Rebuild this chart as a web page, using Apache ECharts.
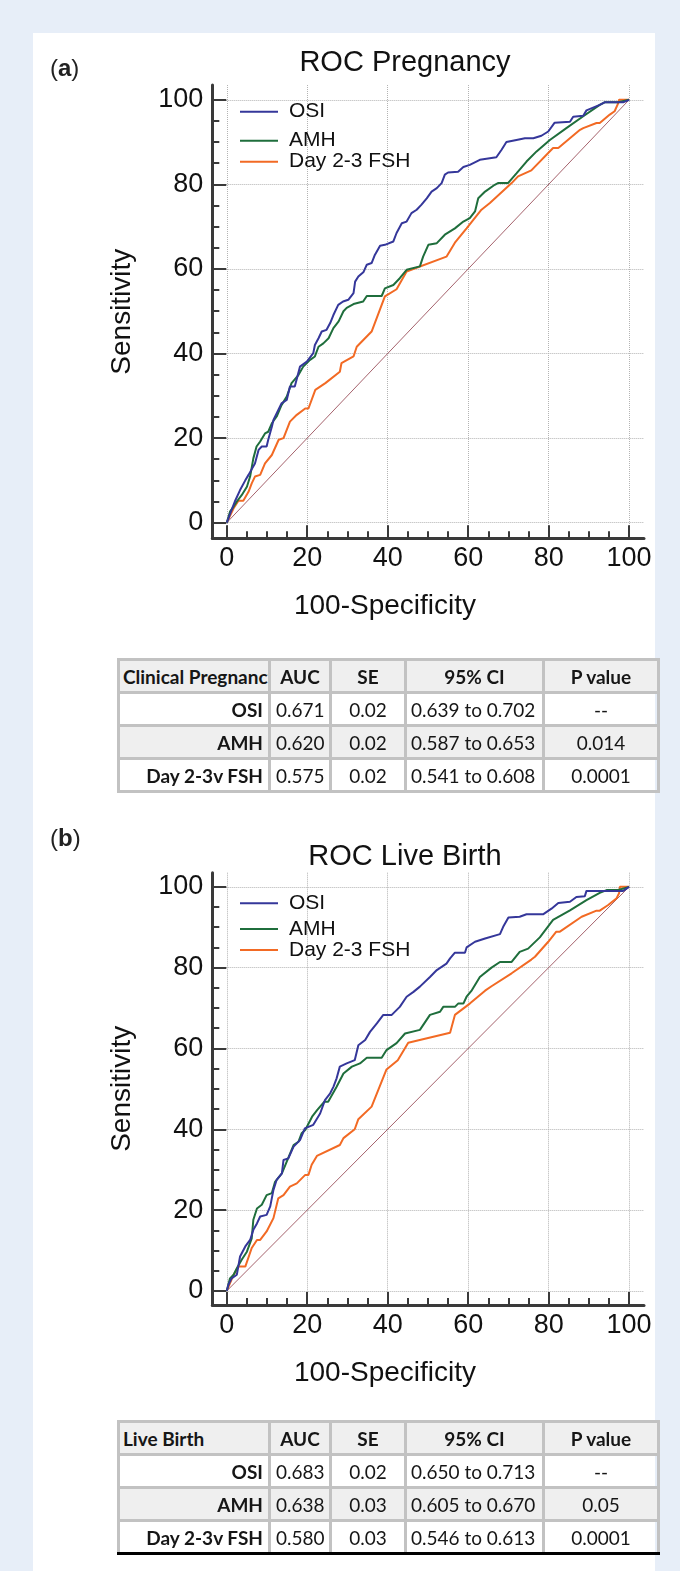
<!DOCTYPE html>
<html>
<head>
<meta charset="utf-8">
<script src="https://cdn.jsdelivr.net/npm/echarts@6/dist/echarts.min.js"></script>
<style>
  html, body { margin: 0; padding: 0; }
  body { width: 680px; height: 1571px; background: #e7eef8; position: relative; overflow: hidden; }
  #panel { position: absolute; left: 33px; top: 33px; width: 622px; height: 1538px; background: #fff; }
  #chart { position: absolute; left: 0; top: 0; width: 680px; height: 1571px; }
  table.stats { position: absolute; left: 117px; width: 540px; border-collapse: collapse; table-layout: fixed;
    font-family: Lato, 'Open Sans', sans-serif; font-size: 19px; color: #161616; }
  table.stats td { border: 3px solid #c2c2c2; padding: 0 5px; white-space: nowrap; overflow: hidden; }
  table.stats tr { height: 33px; }
  table.stats tr.shade { background: #efefef; }
  table.stats td.name { font-weight: bold; text-align: right; }
  table.stats tr.head td { font-weight: bold; text-align: center; }
  table.stats tr.head td.name { text-align: left; padding-left: 3px; }
  table.stats td.c { text-align: center; }
  table.stats td.l { text-align: left; padding-left: 4px; }
  table.stats.last tr:last-child td { border-bottom: 3px solid #000; }
</style>
</head>
<body>
<div id="panel"></div>
<div id="chart"></div>
<script>
// ROC curves: [100-specificity, sensitivity]
const pregOSI = [[0,0],[1.2,3],[2,5],[3.3,7.7],[4.6,10],[5.4,11.3],[7,14],[7.9,17.2],[8.7,18],[9.9,18],[10.3,19.6],[11.2,22.7],[11.6,24.3],[13.6,28.2],[14.9,29],[15.7,32.2],[16.9,32.2],[18.2,36.9],[19.9,38.1],[21.5,40.1],[21.9,42],[22.8,43.6],[23.6,45.2],[24.8,45.6],[25.7,47.2],[26.5,49.1],[27.7,51.5],[28.9,52.3],[30.2,52.7],[31.5,54.3],[31.9,57],[32.7,58.2],[34,59.3],[34.8,61],[36,61.4],[36.8,63.3],[38.1,65.5],[39.3,65.7],[41.4,66.5],[42.2,68.5],[43.5,70.8],[44.7,71.2],[45.9,73.2],[47.2,74],[48.4,75.2],[49.7,76.7],[50.9,78.3],[52.2,79.1],[53.4,80.3],[54.2,82.3],[55,82.8],[57.5,83],[58.8,84.1],[60.4,84.6],[62.9,85.8],[67,86.4],[68.3,88.2],[69.5,90],[72,90.5],[74.1,90.9],[76.2,90.9],[78.2,91.5],[79.9,92.5],[81.5,94.6],[85.3,94.8],[86.1,96],[88.6,96.2],[89.4,97.5],[92.7,98.8],[93.9,99.4],[98.5,99.4],[100,100]];
const pregAMH = [[0,0],[0.8,2.6],[1.7,3.8],[2.5,5],[3.7,6.5],[5,8.5],[5.8,10.9],[6.6,15.2],[7.4,18],[8.3,19.2],[9.5,21.1],[10.3,21.5],[11.2,23.5],[12.4,25.1],[13.6,27.8],[14.9,29.8],[16.1,33],[17.8,34.9],[19,36.9],[20.7,38.5],[21.9,39.3],[22.8,41.6],[24,42.4],[25.3,43.6],[26.5,46],[27.8,47.6],[29,50],[29.8,50.8],[31.5,51.7],[33.9,52.3],[34.8,53.6],[38.5,53.6],[39.3,55.4],[41.4,56.2],[43,57.8],[44.7,59.8],[48,60.6],[48.8,62.9],[50.1,65.7],[52.2,66.1],[54.2,68.1],[56.7,69.6],[58.8,71.2],[60.4,72],[61.7,73.6],[62.5,76.7],[64.2,78.3],[66.6,79.9],[67.4,80.3],[69.9,80.3],[72,82.6],[74.5,85.4],[77,87.8],[80.3,90.5],[84.4,93.3],[88.6,96.1],[92.7,98.8],[93.9,99.4],[97.3,99.4],[100,100]];
const pregFSH = [[0,0],[1.7,3.4],[2.9,5.2],[4.1,5.2],[5.4,7.3],[6.2,9.3],[7,10.9],[8.3,11.3],[9.5,14],[11.2,16],[12.9,19.6],[14.1,20],[15.7,23.9],[17.4,25.5],[19.5,27],[20.3,27],[22,31.4],[24.5,33],[28.1,35.7],[28.5,37.7],[31.5,39.3],[32.3,41.6],[36,45.2],[39.3,53.5],[42.2,55.2],[44.7,59.4],[54.6,62.9],[56.7,66.2],[59.6,69.6],[63.3,74],[65.4,75.6],[70.8,80.3],[72.4,81.9],[75.7,83.3],[81.1,88.6],[82.4,88.6],[87.8,92.9],[88.6,93.3],[91.9,94.5],[92.7,94.5],[95.2,96.5],[96.4,97.3],[97.3,99.2],[97.5,100],[100,100]];
const birthOSI = [[0,0],[0.4,1.5],[1.2,3.1],[2.5,4],[3.3,8.5],[4.6,11],[5.8,12.6],[6.6,15.1],[7.5,16.7],[8.3,18.4],[9.9,18.8],[10.8,20.9],[11.6,25],[12.4,27.5],[13.7,29.1],[14.1,32.4],[15.3,32.8],[16.6,35.7],[18.2,37.3],[19.4,40.2],[21.5,41.1],[23.2,43.9],[24.4,47.2],[25.7,48.9],[26.5,50.5],[27.3,52.6],[28.1,55.5],[29.8,56.3],[31.8,57.1],[32.7,60.8],[34.4,62.1],[35.6,64.1],[37.3,66.2],[38.9,68.3],[41,68.3],[43,70.3],[44.7,72.8],[46.4,74],[48,75.3],[50.5,77.7],[52.2,79.4],[54.6,81],[55.5,82.3],[56.7,83.7],[59.2,83.7],[59.6,85],[61.7,86.4],[64.2,87.2],[67.9,88.3],[68.7,90.1],[70,92.4],[72.8,92.6],[74.5,93.2],[78.6,93.2],[80.7,94.6],[82.4,96],[85.3,96.3],[86.9,97.5],[89,97.7],[89.4,99],[98.5,99],[100,100]];
const birthAMH = [[0,0],[0.8,3.1],[1.7,4],[2.5,5.6],[3.7,7.7],[5,9.7],[6.2,13],[6.6,17.6],[7.5,20.4],[8.7,21.3],[9.9,23.7],[11.2,24.2],[12,27],[13.7,29.1],[14.9,32],[16.6,36.1],[17.8,36.9],[18.6,39],[19.5,39.8],[21.2,43.1],[22.5,44.8],[24.2,46.8],[25.2,46.8],[27.3,50.5],[29,53.8],[31.1,55.5],[33.1,56.3],[34.8,57.7],[38.5,57.7],[39.7,59.6],[42.2,61.3],[44.3,63.7],[48,64.6],[50.5,68.3],[53,69.1],[53.8,70.3],[56.7,70.3],[57.5,71.1],[58.8,71.1],[59.6,72.8],[60.9,74.4],[62.9,77.7],[65.8,80],[67.9,81.4],[70.8,81.4],[72.8,83.9],[74.9,84.7],[77.8,87.5],[81.1,91.8],[85.3,94.2],[89.4,96.7],[92.7,98.5],[94.4,99.2],[97.3,99.2],[100,100]];
const birthFSH = [[0,0],[1.7,4],[2.9,6],[4.6,6],[6.2,10.6],[7.5,12.6],[8.3,12.6],[9.9,14.7],[11.6,18],[12.8,22.9],[14.1,23.7],[15.7,25.8],[17.4,26.6],[19.5,28.7],[20.3,28.7],[21.1,31.2],[22.4,33.4],[28.1,36.1],[29,37.8],[31.8,40],[32.7,42.5],[36,45.6],[39.7,54.8],[42.5,57.1],[45.1,61.4],[55.5,63.9],[56.7,68.3],[60.4,71.1],[64.2,74.3],[65.8,75.4],[70.8,78.6],[75.7,82],[76.6,82.7],[79.9,86.4],[81.9,88.9],[82.8,88.9],[88.2,92.6],[88.6,92.6],[91.9,94.1],[92.7,94.1],[94.8,95.5],[96.9,97.2],[97.5,98.4],[97.7,100],[100,100]];
const chanceLine = [[0,0],[100,100]];

const seriesNames = ['OSI', 'AMH', 'Day 2-3 FSH'];
const majorTicks = [0, 20, 40, 60, 80, 100];
const minorTicks = [5, 10, 15, 25, 30, 35, 45, 50, 55, 65, 70, 75, 85, 90, 95];

// tables under each plot
const rowNames = ['OSI', 'AMH', 'Day 2-3v FSH'];
const colNames = ['AUC', 'SE', '95% CI', 'P value'];
const pregAUC = ['0.671', '0.620', '0.575'];
const pregSE = ['0.02', '0.02', '0.02'];
const pregCI = ['0.639 to 0.702', '0.587 to 0.653', '0.541 to 0.608'];
const pregP = ['--', '0.014', '0.0001'];
const birthAUC = ['0.683', '0.638', '0.580'];
const birthSE = ['0.02', '0.03', '0.03'];
const birthCI = ['0.650 to 0.713', '0.605 to 0.670', '0.546 to 0.613'];
const birthP = ['--', '0.05', '0.0001'];

const FONT = "'Liberation Sans', Arial, sans-serif";
const AXIS = '#3a3a3a';
const TEXT = '#111';
const colors = ['#35379a', '#1f6e3c', '#f26a24'];

const panels = [
  { tag: 'a', title: 'ROC Pregnancy', titleY: 63, tagY: 69, top: 85, height: 453.3, yMin: -3.7, yMax: 103.5,
    nameY: 606, legendY: [111.7, 140.7, 161.7], lines: [pregOSI, pregAMH, pregFSH] },
  { tag: 'b', title: 'ROC Live Birth', titleY: 857, tagY: 839, top: 872.7, height: 432.3, yMin: -3.5, yMax: 103.5,
    nameY: 1373, legendY: [903.3, 929, 950], lines: [birthOSI, birthAMH, birthFSH] }
];

const grid = [], xAxis = [], yAxis = [], series = [], legend = [], title = [];

panels.forEach(function (p, i) {
  grid.push({ left: 212.3, top: p.top, width: 431.7, height: p.height });

  const tickStyle = { color: AXIS, width: 2 };
  xAxis.push({
    type: 'value', gridIndex: i, min: -3.6, max: 103.7, position: 'bottom',
    axisLine: { show: true, onZero: false, lineStyle: { color: AXIS, width: 3 } },
    axisTick: { show: true, inside: true, length: 13, customValues: majorTicks, lineStyle: tickStyle },
    axisLabel: { customValues: majorTicks, fontSize: 27, color: TEXT, fontFamily: FONT, margin: 7 },
    splitLine: { show: true, lineStyle: { type: [1, 1], color: '#b3b3b3', width: 1 } }
  });
  xAxis.push({
    type: 'value', gridIndex: i, min: -3.6, max: 103.7, position: 'bottom',
    axisLine: { show: false, onZero: false },
    axisTick: { show: true, inside: true, length: 7, customValues: minorTicks, lineStyle: tickStyle },
    axisLabel: { show: false }, splitLine: { show: false }
  });
  yAxis.push({
    type: 'value', gridIndex: i, min: p.yMin, max: p.yMax, position: 'left',
    name: 'Sensitivity', nameLocation: 'middle', nameGap: 76,
    nameTextStyle: { fontSize: 28, color: TEXT, fontFamily: FONT },
    axisLine: { show: true, onZero: false, lineStyle: { color: AXIS, width: 3 } },
    axisTick: { show: true, inside: true, length: 14, customValues: majorTicks, lineStyle: tickStyle },
    axisLabel: { customValues: majorTicks, fontSize: 27, color: TEXT, fontFamily: FONT, margin: 9 },
    splitLine: { show: true, lineStyle: { type: [1, 1], color: '#b3b3b3', width: 1 } }
  });
  yAxis.push({
    type: 'value', gridIndex: i, min: p.yMin, max: p.yMax, position: 'left',
    axisLine: { show: false, onZero: false },
    axisTick: { show: true, inside: true, length: 7, customValues: minorTicks, lineStyle: tickStyle },
    axisLabel: { show: false }, splitLine: { show: false }
  });

  series.push({
    type: 'line', name: 'chance', data: chanceLine, xAxisIndex: 2 * i, yAxisIndex: 2 * i,
    symbol: 'none', silent: true, lineStyle: { color: '#8e3a46', width: 0.8 }, z: 1
  });
  p.lines.forEach(function (d, k) {
    series.push({
      type: 'line', name: seriesNames[k], data: d, xAxisIndex: 2 * i, yAxisIndex: 2 * i,
      symbol: 'none', color: colors[k], lineStyle: { color: colors[k], width: 2 }, z: 4 - k
    });
    legend.push({
      data: [seriesNames[k]], left: 240, top: p.legendY[k] - 10.5, padding: 0,
      icon: 'rect', itemWidth: 38, itemHeight: 2,
      textStyle: { fontSize: 21, color: TEXT, fontFamily: FONT, padding: [0, 0, 0, 6] }
    });
  });

  title.push({
    text: p.title, left: 405, top: p.titleY, textAlign: 'center', textVerticalAlign: 'middle', padding: 0,
    textStyle: { fontSize: 29, fontWeight: 'normal', color: TEXT, fontFamily: FONT }
  });
  title.push({
    text: '({b|' + p.tag + '})', left: 50, top: p.tagY, textAlign: 'left', textVerticalAlign: 'middle', padding: 0,
    textStyle: { fontSize: 24, fontWeight: 'normal', color: '#222', fontFamily: FONT,
      rich: { b: { fontSize: 24, fontWeight: 'bold', color: '#222', fontFamily: FONT } } }
  });
  title.push({
    text: '100-Specificity', left: 385, top: p.nameY, textAlign: 'center', textVerticalAlign: 'middle', padding: 0,
    textStyle: { fontSize: 28, fontWeight: 'normal', color: TEXT, fontFamily: FONT }
  });
});

const chart = echarts.init(document.getElementById('chart'));
chart.setOption({
  animation: false,
  title: title,
  legend: legend,
  grid: grid,
  xAxis: xAxis,
  yAxis: yAxis,
  series: series
});

function makeTable(top, headName, auc, se, ci, pv, last) {
  const t = document.createElement('table');
  t.className = 'stats' + (last ? ' last' : '');
  t.style.top = top + 'px';
  const cg = document.createElement('colgroup');
  [151, 61, 75, 138, 115].forEach(function (w) {
    const c = document.createElement('col'); c.style.width = w + 'px'; cg.appendChild(c);
  });
  t.appendChild(cg);
  const head = t.insertRow();
  head.className = 'head shade';
  const h0 = head.insertCell(); h0.className = 'name'; h0.textContent = headName;
  colNames.forEach(function (n) { head.insertCell().textContent = n; });
  rowNames.forEach(function (n, r) {
    const tr = t.insertRow();
    if (r === 1) tr.className = 'shade';
    const c0 = tr.insertCell(); c0.className = 'name'; c0.textContent = n;
    const c1 = tr.insertCell(); c1.className = 'c'; c1.textContent = auc[r];
    const c2 = tr.insertCell(); c2.className = 'c'; c2.textContent = se[r];
    const c3 = tr.insertCell(); c3.className = 'l'; c3.textContent = ci[r];
    const c4 = tr.insertCell(); c4.className = 'c'; c4.textContent = pv[r];
  });
  document.body.appendChild(t);
}
makeTable(658, 'Clinical Pregnancy', pregAUC, pregSE, pregCI, pregP, false);
makeTable(1420, 'Live Birth', birthAUC, birthSE, birthCI, birthP, true);
</script>
</body>
</html>
